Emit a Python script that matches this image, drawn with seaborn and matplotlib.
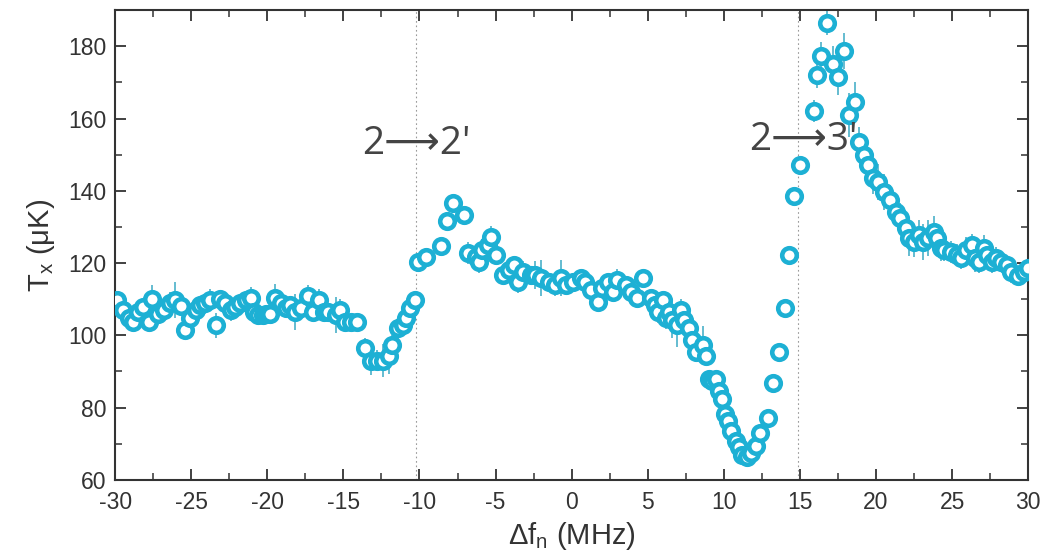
import numpy as np
import pandas as pd
import matplotlib
matplotlib.use("Agg")
import matplotlib.pyplot as plt
from matplotlib.ticker import MultipleLocator
import seaborn as sns

# detuning (MHz)
detuning = [
    -29.9, -29.5, -29.1, -28.8, -28.5, -28.2, -27.8, -27.6, -27.2, -26.8,
    -26.4, -26.1, -25.7, -25.4, -25.1, -24.7, -24.4, -24.1, -23.8, -23.4,
    -23.1, -22.8, -22.4, -22.1, -21.8, -21.4, -21.1, -20.9, -20.6, -20.3,
    -20.1, -19.8, -19.5, -19.1, -18.8, -18.5, -18.2, -17.8, -17.3, -17.0,
    -16.6, -16.3, -16.0, -15.5, -15.2, -14.9, -14.5, -14.1,
    -13.6, -13.2, -12.8, -12.4, -12.0, -11.8, -11.4, -11.1, -10.9, -10.6,
    -10.3, -10.1, -9.6, -8.6, -8.2, -7.8, -7.1, -6.8, -6.3, -6.1,
    -5.9, -5.5, -5.3, -5.0, -4.5, -4.1, -3.8, -3.5, -3.2, -2.7,
    -2.4, -2.0, -1.5, -1.1, -0.7, -0.4, 0.1, 0.6, 0.9, 1.3,
    1.7, 2.0, 2.4, 2.7, 3.0, 3.6, 3.9, 4.3, 4.7, 5.2,
    5.5, 5.7, 6.0, 6.2, 6.4, 6.6, 6.9, 7.2, 7.4, 7.7,
    7.9, 8.2, 8.6, 8.8, 9.0, 9.2, 9.5, 9.7, 9.9, 10.1,
    10.3, 10.5, 10.8, 11.0, 11.2, 11.5, 11.8, 12.1, 12.4, 12.9,
    13.2, 13.6, 14.0, 14.3, 14.6, 15.0, 15.9, 16.1, 16.4, 16.8,
    17.2, 17.5, 17.9, 18.2, 18.6, 18.9, 19.2, 19.5, 19.8, 20.1,
    20.5, 20.9, 21.3, 21.6, 22.0, 22.2, 22.5, 22.8, 23.1, 23.4,
    23.8, 24.0, 24.3, 24.5, 24.9, 25.3, 25.6, 25.9, 26.3, 26.5,
    26.8, 27.1, 27.3, 27.6, 27.9, 28.2, 28.6, 28.9, 29.3, 29.7,
    30.0,
]

# temperature (uK)
temperature = [
    109.7, 107.0, 104.7, 103.6, 106.4, 107.8, 103.6, 110.0, 106.0, 107.0,
    109.0, 109.7, 108.0, 101.4, 104.7, 107.0, 108.3, 108.9, 109.7, 102.8,
    110.0, 109.0, 107.0, 107.8, 108.9, 109.7, 110.3, 106.4, 105.6, 105.6,
    105.8, 106.0, 110.3, 109.0, 107.5, 108.3, 106.4, 107.5, 111.0, 106.4,
    109.7, 106.4, 106.4, 105.6, 107.0, 103.6, 103.6, 103.6,
    96.4, 93.0, 93.0, 93.0, 94.4, 97.2, 102.0, 102.8, 104.7, 107.5,
    109.7, 120.3, 121.7, 124.7, 131.7, 136.7, 133.3, 122.8, 121.7, 120.3,
    123.6, 125.0, 127.2, 122.2, 116.7, 118.0, 119.4, 114.7, 117.5, 116.7,
    116.7, 115.8, 114.7, 113.9, 115.8, 113.9, 114.7, 115.8, 114.7, 112.5,
    109.2, 113.0, 114.7, 112.0, 115.3, 113.9, 112.0, 110.3, 115.8, 110.3,
    108.3, 106.4, 109.7, 104.7, 106.4, 104.2, 102.8, 107.0, 104.2, 102.0,
    98.6, 95.3, 97.2, 94.4, 88.0, 87.5, 88.0, 84.7, 82.5, 78.3,
    76.4, 73.6, 70.8, 69.2, 66.9, 66.4, 67.5, 69.4, 73.0, 77.2,
    86.9, 95.3, 107.5, 122.2, 138.6, 147.2, 162.0, 172.0, 177.2, 186.5,
    175.0, 171.4, 178.6, 161.0, 164.7, 153.6, 150.0, 147.2, 143.6, 142.5,
    139.7, 137.5, 134.2, 132.5, 129.7, 126.9, 125.8, 127.8, 125.8, 126.9,
    128.6, 126.9, 124.2, 123.6, 123.0, 122.2, 121.4, 123.6, 125.0, 121.4,
    120.3, 124.2, 122.2, 120.3, 121.4, 120.3, 119.4, 117.5, 116.4, 117.5,
    118.6,
]

# error bars (uK)
error = [
    2.0, 2.5, 2.0, 1.5, 2.0, 2.0, 2.5, 4.0, 2.5, 2.0,
    3.0, 5.0, 2.5, 2.0, 3.0, 2.0, 2.5, 2.0, 3.0, 3.5,
    2.5, 2.0, 3.0, 2.0, 2.5, 2.0, 3.0, 1.5, 1.5, 1.5,
    1.5, 2.0, 4.0, 3.0, 2.5, 2.0, 5.0, 2.5, 3.0, 2.0,
    3.0, 2.5, 2.0, 5.0, 3.0, 2.0, 2.0, 2.5,
    3.0, 4.0, 3.0, 4.5, 5.0, 3.0, 3.0, 3.0, 3.0, 2.0,
    2.0, 1.5, 1.5, 1.5, 2.0, 2.0, 2.5, 3.0, 3.0, 3.0,
    3.0, 2.5, 3.0, 2.5, 2.5, 2.5, 2.0, 3.0, 3.0, 2.5,
    4.0, 5.0, 2.5, 3.0, 5.0, 2.5, 2.5, 2.5, 2.0, 2.5,
    2.0, 2.5, 2.5, 2.5, 3.0, 2.5, 2.5, 2.5, 2.0, 2.5,
    3.0, 3.0, 2.5, 3.0, 3.0, 5.0, 6.0, 3.0, 3.5, 3.5,
    3.5, 2.5, 5.5, 2.5, 2.0, 2.0, 2.0, 2.0, 2.0, 2.0,
    2.0, 1.5, 1.5, 1.5, 1.5, 1.5, 1.5, 1.5, 1.5, 1.5,
    1.5, 1.5, 2.0, 2.0, 2.5, 2.0, 3.0, 3.5, 4.0, 3.5,
    5.0, 5.0, 5.0, 6.0, 5.5, 4.0, 4.0, 4.0, 4.5, 5.0,
    5.0, 4.0, 3.5, 4.0, 4.5, 5.0, 4.0, 4.0, 5.0, 5.0,
    4.5, 4.0, 3.5, 3.0, 3.0, 3.0, 3.0, 3.5, 3.0, 4.0,
    3.0, 3.5, 3.0, 3.0, 3.0, 2.5, 2.5, 3.0, 2.5, 2.5,
    2.5,
]

transition_lines = [-10.2, 14.9]
transition_labels = ["2\u27f62'", "2\u27f63'"]
label_pos = [(-10.2, 153), (15.2, 154)]

df = pd.DataFrame({"df": detuning, "T": temperature, "err": error})

sns.set_theme(style="ticks")
plt.rcParams["font.family"] = ["Liberation Sans", "DejaVu Sans"]
plt.rcParams["mathtext.default"] = "regular"
plt.rcParams["axes.unicode_minus"] = False

dot_color = "#1db0d4"
bar_color = "#3ba9c4"

fig, ax = plt.subplots(figsize=(10.47, 5.6), dpi=100)
fig.subplots_adjust(left=0.110, right=0.982, bottom=0.143, top=0.982)

for xv in transition_lines:
    ax.axvline(xv, color="#999999", lw=0.8, ls=(0, (1.5, 2.5)), zorder=1)

ax.errorbar(df["df"], df["T"], yerr=df["err"], fmt="none",
            ecolor=bar_color, elinewidth=1.1, capsize=0, zorder=2)
sns.scatterplot(data=df, x="df", y="T", ax=ax, marker="o", s=110,
                facecolor="white", edgecolor=dot_color, linewidth=3.3,
                zorder=3, legend=False)

for txt, (xv, yv) in zip(transition_labels, label_pos):
    ax.text(xv, yv, txt, ha="center", va="center", fontsize=28,
            color="#444444", family=["Open Sans", "DejaVu Sans"], zorder=4)

ax.set_xlim(-30, 30)
ax.set_ylim(60, 190)
ax.xaxis.set_major_locator(MultipleLocator(5))
ax.xaxis.set_minor_locator(MultipleLocator(2.5))
ax.yaxis.set_major_locator(MultipleLocator(20))
ax.yaxis.set_minor_locator(MultipleLocator(10))
ax.tick_params(which="both", direction="in", top=True, right=True,
               colors="#333333", labelcolor="#333333")
ax.tick_params(which="major", length=8, width=1.3, labelsize=16.5)
ax.tick_params(axis="x", which="major", pad=8)
ax.tick_params(axis="y", which="major", pad=6)
ax.tick_params(which="minor", length=5, width=1.1)
for sp in ax.spines.values():
    sp.set_linewidth(1.5)
    sp.set_color("#333333")

ax.set_xlabel("\u0394f$_{n}$ (MHz)", fontsize=21, color="#333333", labelpad=4)
ax.set_ylabel("T$_{x}$ (\u03bcK)", fontsize=21, color="#333333", labelpad=8)

fig.savefig("out.png", dpi=100)
